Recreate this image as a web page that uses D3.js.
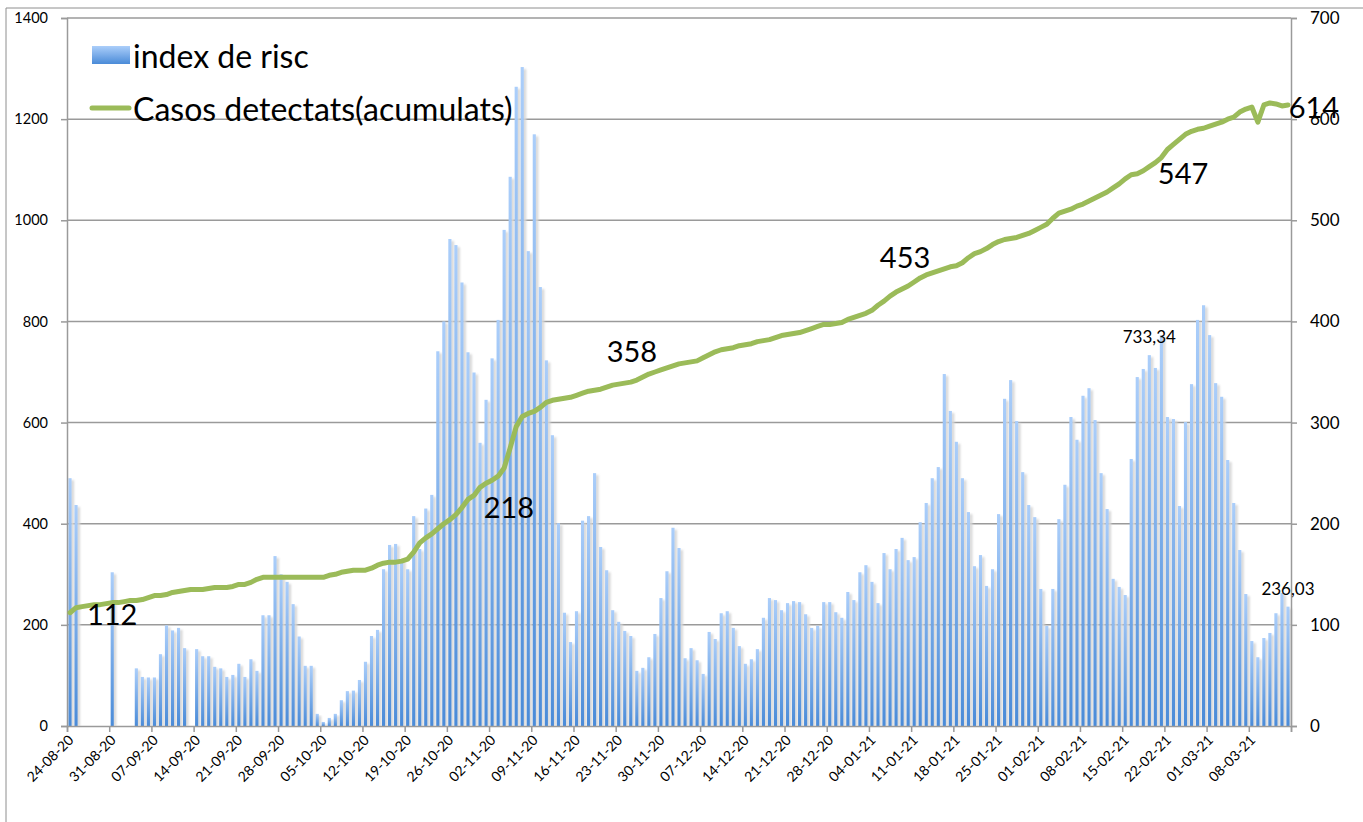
<!DOCTYPE html>
<html>
<head>
<meta charset="utf-8">
<script src="https://cdn.jsdelivr.net/npm/d3@7"></script>
<style>
  html, body { margin: 0; padding: 0; background: #ffffff; }
  svg { display: block; }
  text { font-family: Lato, "Liberation Sans", sans-serif; fill: #000; }
</style>
</head>
<body>
<svg id="chart" width="1363" height="822"></svg>
<script>
// ---------- DATA ----------
const startDate = "24-08-20";
const dayCount = 203; // 24-08-20 .. 14-03-21

const tickLabels = ["24-08-20","31-08-20","07-09-20","14-09-20","21-09-20","28-09-20","05-10-20",
  "12-10-20","19-10-20","26-10-20","02-11-20","09-11-20","16-11-20","23-11-20","30-11-20",
  "07-12-20","14-12-20","21-12-20","28-12-20","04-01-21","11-01-21","18-01-21","25-01-21",
  "01-02-21","08-02-21","15-02-21","22-02-21","01-03-21","08-03-21"];

// index de risc (daily bars), null = no value
const riskIndex = [
  490,437,null,null,null,null,null,304,null,null,null,114,97,96,96,142,199,189,194,154,
  null,152,138,138,117,114,97,101,123,97,132,109,219,219,336,300,285,241,177,119,
  119,24,8,16,24,51,69,70,91,127,178,190,310,358,360,328,310,415,350,430,
  457,741,800,963,951,877,739,699,560,645,727,803,981,1086,1264,1303,939,1170,868,723,
  575,401,224,166,227,406,415,500,354,308,229,206,188,178,109,115,136,182,253,306,
  392,352,134,154,130,103,186,172,223,227,194,158,123,132,152,214,253,249,229,243,
  247,245,221,194,198,245,245,225,214,265,249,304,318,285,243,342,310,350,372,328,
  334,403,441,490,512,696,623,562,490,423,316,338,277,310,419,647,684,603,502,437,
  413,271,198,271,409,477,611,566,653,668,605,500,429,291,275,259,528,690,706,733.34,
  708,773,611,607,435,601,676,803,832,773,678,651,526,441,348,261,168,136,174,184,
  223,263,236.03
];

// Casos detectats (acumulats) — right axis
const casesCum = [
  112,117,118,119,120,120,121,122,122,123,124,124,125,127,129,129,130,132,133,134,
  135,135,135,136,137,137,137,138,140,140,142,145,147,147,147,147,147,147,147,147,
  147,147,147,149,150,152,153,154,154,154,156,159,161,162,162,163,165,172,181,186,
  190,195,200,204,209,216,224,228,236,240,243,247,255,275,296,306,309,311,315,320,
  322,323,324,325,327,329,331,332,333,335,337,338,339,340,342,345,348,350,352,354,
  356,358,359,360,361,364,367,370,372,373,374,376,377,378,380,381,382,384,386,387,
  388,389,391,393,395,397,397,398,399,402,404,406,408,411,416,420,425,429,432,435,
  439,443,446,448,450,452,454,455,458,463,467,469,472,476,479,481,482,483,485,487,
  490,493,496,502,507,509,511,514,516,519,522,525,528,532,536,541,545,546,549,553,
  557,562,570,575,580,585,588,590,591,593,595,597,600,602,607,610,612,597,614,616,
  615,613,614
];

const leftTicks = [0,200,400,600,800,1000,1200,1400];
const rightTicks = [0,100,200,300,400,500,600,700];

// annotations: [text, day position, baseline value on right axis]
const lineLabels = [["112",7.5,100],["218",73.3,206],["358",93.7,360],["453",139,453],["547",185.1,536],["614",206.8,601]];
// bar value labels: [text, day index, value]
const barLabels = [["733,34",179,733.34],["236,03",202,236.03]];

const legendItems = ["index de risc","Casos detectats(acumulats)"];

// ---------- LAYOUT ----------
const W = 1363, H = 822;
const plot = {left: 67, right: 1291, top: 18, bottom: 726};
const gridColor = "#9a9a9a";
const lineColor = "#9bbb59";

const svg = d3.select("#chart");

const defs = svg.append("defs");
const grad = defs.append("linearGradient").attr("id","barGrad")
  .attr("x1","0").attr("y1","0").attr("x2","0").attr("y2","1");
grad.append("stop").attr("offset","0%").attr("stop-color","#abcefa");
grad.append("stop").attr("offset","100%").attr("stop-color","#4a8bd8");
const blur = defs.append("filter").attr("id","shadowBlur")
  .attr("x","-100%").attr("y","-5%").attr("width","300%").attr("height","110%");
blur.append("feGaussianBlur").attr("stdDeviation","0.9");

// outer frame
svg.append("path").attr("d", `M6,${H} L6,8 L${W},8`)
  .attr("fill","none").attr("stroke","#8e8e8e").attr("stroke-width",1);

// scales
const x = d3.scaleLinear().domain([0, dayCount]).range([plot.left, plot.right]);
const xBand = d3.scaleBand().domain(d3.range(dayCount)).range([plot.left, plot.right]).paddingInner(0.48).paddingOuter(0.24);
const yL = d3.scaleLinear().domain([0, 1400]).range([plot.bottom, plot.top]);
const yR = d3.scaleLinear().domain([0, 700]).range([plot.bottom, plot.top]);

// gridlines
svg.append("g").selectAll("line").data(leftTicks.filter(d => d > 0)).join("line")
  .attr("x1", plot.left).attr("x2", plot.right)
  .attr("y1", d => yL(d)).attr("y2", d => yL(d))
  .attr("stroke", gridColor).attr("stroke-width", 1.5);

// bars
const barData = riskIndex.map((v,i) => ({i, v})).filter(d => d.v != null);
const bw = xBand.bandwidth();
svg.append("g").selectAll("rect").data(barData).join("rect")
  .attr("x", d => xBand(d.i) + bw * 0.75)
  .attr("y", d => yL(d.v) + 2)
  .attr("width", bw)
  .attr("height", d => Math.max(0, plot.bottom - yL(d.v) - 2))
  .attr("fill", "#d6d6d6")
  .attr("filter", "url(#shadowBlur)");
svg.append("g").selectAll("rect").data(barData).join("rect")
  .attr("x", d => xBand(d.i))
  .attr("y", d => yL(d.v))
  .attr("width", bw)
  .attr("height", d => plot.bottom - yL(d.v))
  .attr("fill", "url(#barGrad)");

// axes
const axisColor = "#9a9a9a";
const gL = svg.append("g").attr("transform", `translate(${plot.left},0)`)
  .call(d3.axisLeft(yL).tickValues(leftTicks).tickSize(6).tickPadding(13).tickFormat(d3.format("d")));
const gR = svg.append("g").attr("transform", `translate(${plot.right},0)`)
  .call(d3.axisRight(yR).tickValues(rightTicks).tickSize(6).tickPadding(13).tickFormat(d3.format("d")));
const xTickVals = d3.range(0, dayCount + 1, 7);
const gX = svg.append("g").attr("transform", `translate(0,${plot.bottom})`)
  .call(d3.axisBottom(x).tickValues(xTickVals).tickSize(6).tickFormat((d,k) => tickLabels[k] || ""));
[gL, gR, gX].forEach(g => {
  g.select(".domain").attr("stroke", axisColor).attr("stroke-width", 1.5);
  g.selectAll(".tick line").attr("stroke", axisColor).attr("stroke-width", 1.5);
  g.selectAll("text").attr("fill", "#000").style("font-family", "Lato, 'Liberation Sans', sans-serif");
});
gL.selectAll("text").style("font-size", "14.5px");
gR.selectAll("text").style("font-size", "17px");
gX.selectAll("text")
  .style("font-size", "14px")
  .attr("text-anchor", "end")
  .attr("dy", null).attr("y", null)
  .attr("transform", "translate(7,15) rotate(-45)");

// cumulative line
const line = d3.line().x((d,i) => x(i + 0.5)).y(d => yR(d));
svg.append("path").datum(casesCum)
  .attr("d", line)
  .attr("fill", "none")
  .attr("stroke", lineColor)
  .attr("stroke-width", 5)
  .attr("stroke-linejoin", "round")
  .attr("stroke-linecap", "round");

// line labels
svg.append("g").selectAll("text").data(lineLabels).join("text")
  .attr("x", d => x(d[1]))
  .attr("y", d => yR(d[2]))
  .attr("text-anchor", "middle")
  .style("font-size", "29px")
  .text(d => d[0]);

// bar labels
svg.append("g").selectAll("text").data(barLabels).join("text")
  .attr("x", d => x(d[1] + 0.5))
  .attr("y", d => yL(d[2]) - 12)
  .attr("text-anchor", "middle")
  .style("font-size", "17px")
  .text(d => d[0]);

// legend
const lg = svg.append("g");
lg.append("rect").attr("x", 92).attr("y", 46).attr("width", 38).attr("height", 18).attr("fill", "url(#barGrad)");
lg.append("line").attr("x1", 92).attr("x2", 129).attr("y1", 108).attr("y2", 108)
  .attr("stroke", lineColor).attr("stroke-width", 5).attr("stroke-linecap", "round");
lg.selectAll("text").data(legendItems).join("text")
  .attr("x", 133).attr("y", (d,i) => 68 + i * 53)
  .style("font-size", "32px")
  .text(d => d);
</script>
</body>
</html>
